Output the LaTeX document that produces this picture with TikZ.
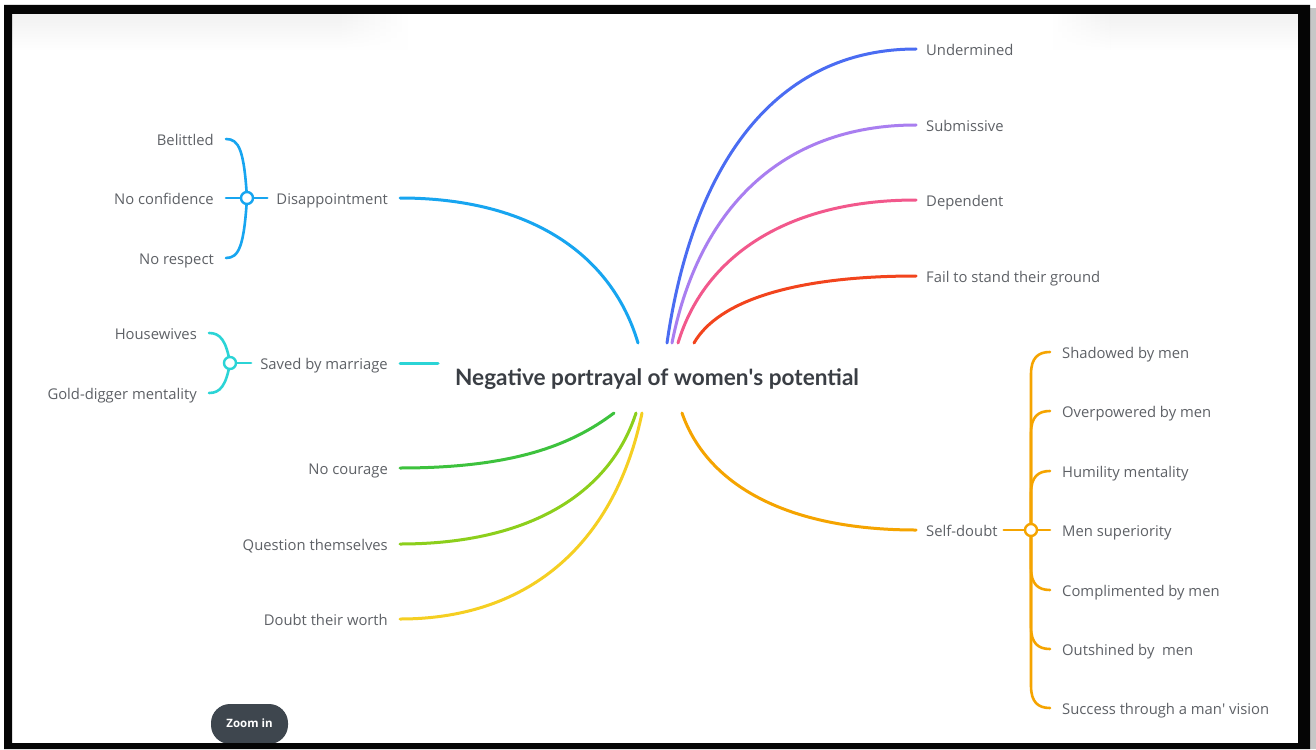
\documentclass[tikz,border=0pt]{standalone}
\usepackage{fontspec}
\setmainfont{Open Sans}
\newfontfamily\titlefont{Lato}
\usetikzlibrary{calc,fadings}

\definecolor{frameblack}{HTML}{050505}
\definecolor{labelgray}{HTML}{5E6166}
\definecolor{titlegray}{HTML}{3A3E44}
\definecolor{btngray}{HTML}{3E464E}
\definecolor{cUnder}{HTML}{4A6CF2}
\definecolor{cSubm}{HTML}{A97EF0}
\definecolor{cDep}{HTML}{F2588C}
\definecolor{cFail}{HTML}{F2441D}
\definecolor{cSelf}{HTML}{F5A400}
\definecolor{cDisap}{HTML}{17A5F0}
\definecolor{cSaved}{HTML}{2BD4D6}
\definecolor{cCour}{HTML}{3DC23D}
\definecolor{cQuest}{HTML}{8CCF1C}
\definecolor{cWorth}{HTML}{F5CF22}
\colorlet{haze}{black!5}

\tikzset{
  lbl/.style={font=\fontsize{14.8}{16}\selectfont, text=labelgray, inner sep=0pt,
              text height=13pt, text depth=0pt},
  lblR/.style={lbl, anchor=west},
  lblL/.style={lbl, anchor=east},
  branch/.style={line width=3pt, line cap=round, draw=#1},
  brk/.style={line width=2.6pt, line cap=round, draw=#1},
  joint/.style={circle, draw=#1, line width=2.4pt, fill=white, minimum size=12pt, inner sep=0pt},
}

\begin{document}
\begin{tikzpicture}[x=1pt, y=-1pt]
\useasboundingbox (0,0) rectangle (1316,749);

% screen background
\fill[white] (0,0) rectangle (1316,749);
\fill[black!22] (1308,8) rectangle (1316,749);
% soft toolbar shadows along the top edge
\fill[haze, path fading=south] (12,14) rectangle (340,50);
\shade[left color=haze, right color=white, path fading=south] (340,14) rectangle (410,50);
\shade[left color=white, right color=haze, path fading=south] (1050,14) rectangle (1110,50);
\fill[haze, path fading=south] (1110,14) rectangle (1298,50);

% central topic
\node[font=\titlefont\bfseries\fontsize{22.6}{26}\selectfont, text=titlegray, inner sep=0pt]
  (root) at (657,379) {Negative portrayal of women\textquotesingle s potential};

\coordinate (sU) at (667,343);
\coordinate (sS) at (672,343);
\coordinate (sD) at (678,343);
\coordinate (sF) at (694,343);
\coordinate (sSD) at (682,413);
\coordinate (sDi) at (638,343);
\coordinate (sSv) at (438,363);
\coordinate (sC) at (614,413);
\coordinate (sQ) at (636,413);
\coordinate (sW) at (642,413);

% right-hand topics
\node[lblR] (under) at (926,49) {Undermined};
\node[lblR] (subm)  at (926,125) {Submissive};
\node[lblR] (dep)   at (926,200) {Dependent};
\node[lblR] (fail)  at (926,276) {Fail to stand their ground};
\node[lblR] (self)  at (926,530) {Self-doubt};

\draw[branch=cUnder] (sU) .. controls +(26,-180) and +(-140,0) .. ([xshift=-10pt]under.west);
\draw[branch=cSubm]  (sS) .. controls +(26,-132) and +(-136,0) .. ([xshift=-10pt]subm.west);
\draw[branch=cDep]   (sD) .. controls +(26,-86) and +(-130,0) .. ([xshift=-10pt]dep.west);
\draw[branch=cFail]  (sF) .. controls +(24,-42) and +(-122,0) .. ([xshift=-10pt]fail.west);
\draw[branch=cSelf]  (sSD) .. controls +(25,72) and +(-129,0) .. ([xshift=-10pt]self.west);

% left-hand topics
\node[lblL] (disap) at (388,198) {Disappointment};
\node[lblL] (saved) at (388,363) {Saved by marriage};
\node[lblL] (cour)  at (388,468) {No courage};
\node[lblL] (quest) at (388,544) {Question themselves};
\node[lblL] (worth) at (388,619) {Doubt their worth};

\draw[branch=cDisap] (sDi) .. controls +(-26,-88) and +(131,0) .. ([xshift=12pt]disap.east);
\draw[branch=cSaved] (sSv) -- ([xshift=12pt]saved.east);
\draw[branch=cCour]  (sC) .. controls +(-40,30) and +(118,0) .. ([xshift=12pt]cour.east);
\draw[branch=cQuest] (sQ) .. controls +(-26,80) and +(130,0) .. ([xshift=12pt]quest.east);
\draw[branch=cWorth] (sW) .. controls +(-26,126) and +(133,0) .. ([xshift=12pt]worth.east);

% Disappointment subtopics
\node[lblL] (bel)  at (214,139) {Belittled};
\node[lblL] (conf) at (214,198) {No confidence};
\node[lblL] (resp) at (214,258) {No respect};
\coordinate (jD) at (247,198);
\draw[brk=cDisap] ([xshift=-9pt]disap.west) -- (jD);
\draw[brk=cDisap] (jD) .. controls +(-3,-48) and +(13,0) .. ([xshift=12pt]bel.east);
\draw[brk=cDisap] (jD) -- ([xshift=12pt]conf.east);
\draw[brk=cDisap] (jD) .. controls +(-3,48) and +(13,0) .. ([xshift=12pt]resp.east);
\node[joint=cDisap] at (jD) {};

% Saved by marriage subtopics
\node[lblL] (house) at (197,333) {Housewives};
\node[lblL] (gold)  at (197,393) {Gold-digger mentality};
\coordinate (jS) at (230,363);
\draw[brk=cSaved] ([xshift=-9pt]saved.west) -- (jS);
\draw[brk=cSaved] (jS) .. controls +(-4,-23) and +(11,0) .. ([xshift=12pt]house.east);
\draw[brk=cSaved] (jS) .. controls +(-4,23) and +(11,0) .. ([xshift=12pt]gold.east);
\node[joint=cSaved] at (jS) {};

% Self-doubt subtopics
\node[lblR] (k1) at (1062,352) {Shadowed by men};
\node[lblR] (k2) at (1062,411) {Overpowered by men};
\node[lblR] (k3) at (1062,471) {Humility mentality};
\node[lblR] (k4) at (1062,530) {Men superiority};
\node[lblR] (k5) at (1062,590) {Complimented by men};
\node[lblR] (k6) at (1062,649) {Outshined by\ \ men};
\node[lblR] (k7) at (1062,708) {Success through a man\textquotesingle\ vision};
\coordinate (jR) at (1031,530);
\draw[brk=cSelf] ([xshift=6pt]self.east) -- (jR);
\foreach \k in {k1,k2,k3} {
  \draw[brk=cSelf] (jR) -- ($(\k.west)+(-31,22)$)
    .. controls ($(\k.west)+(-31,6)$) and ($(\k.west)+(-24,0)$) .. ($(\k.west)+(-12,0)$);
}
\draw[brk=cSelf] (jR) -- ([xshift=-12pt]k4.west);
\foreach \k in {k5,k6,k7} {
  \draw[brk=cSelf] (jR) -- ($(\k.west)+(-31,-22)$)
    .. controls ($(\k.west)+(-31,-6)$) and ($(\k.west)+(-24,0)$) .. ($(\k.west)+(-12,0)$);
}
\node[joint=cSelf] at (jR) {};

% zoom button
\fill[btngray, rounded corners=19pt] (211,704) rectangle (288,744);
\node[font=\fontsize{11.5}{13}\selectfont\bfseries, text=white, inner sep=0pt] (zoom) at (249.5,723) {Zoom in};

% black screen frame, drawn last so it covers the button's lower edge
\fill[frameblack, even odd rule] (4,5) rectangle (1310,749) (12,14) rectangle (1298,743);
\end{tikzpicture}
\end{document}
